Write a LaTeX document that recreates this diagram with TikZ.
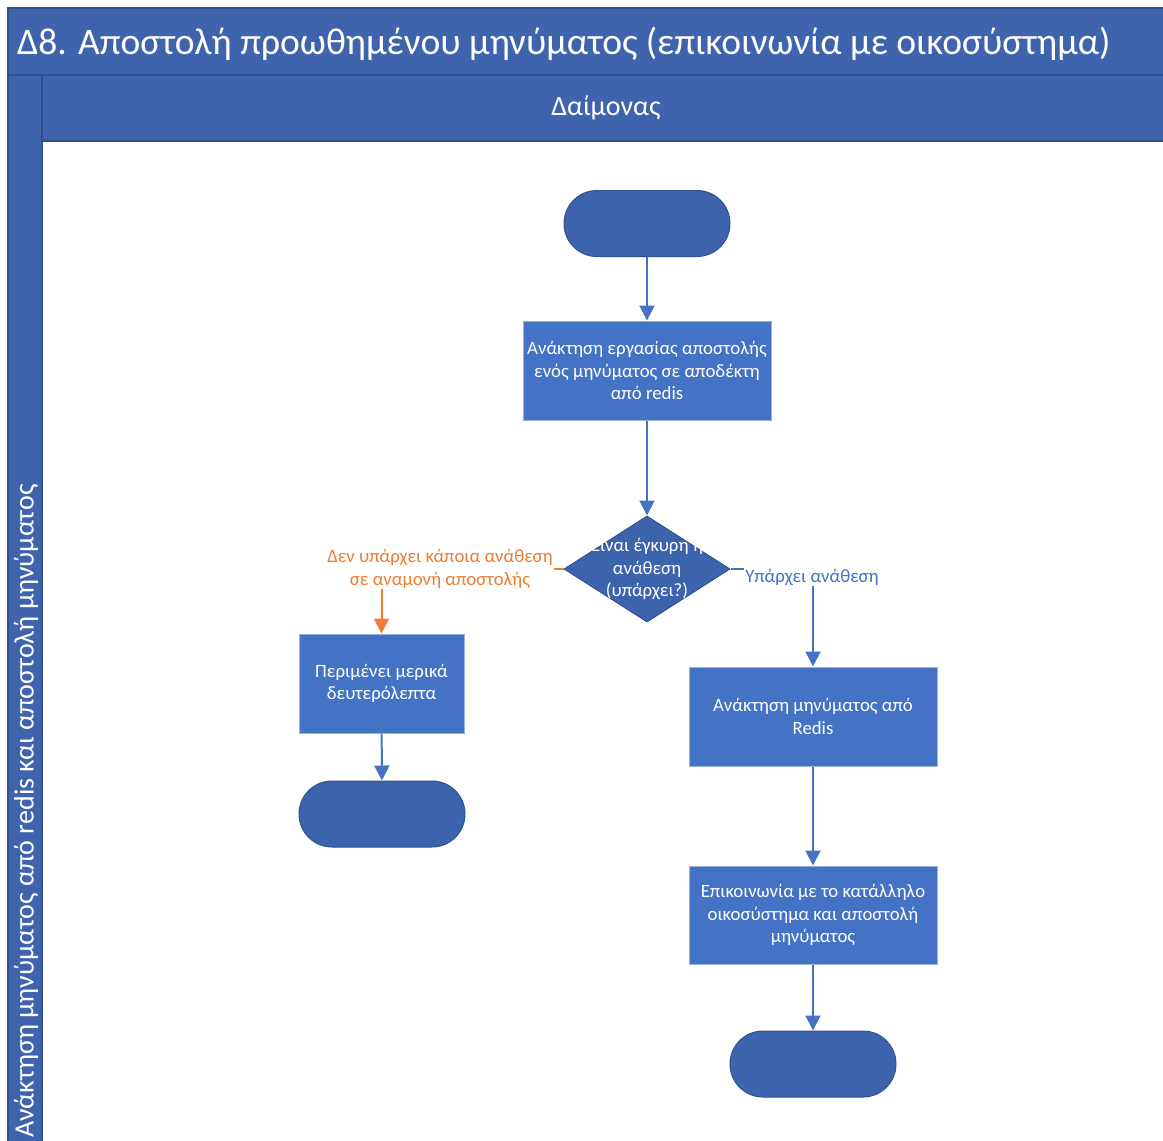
\documentclass[tikz,border=0pt]{standalone}
\usepackage{fontspec}
\setmainfont{Carlito}
\usetikzlibrary{arrows.meta,shapes.geometric}
\definecolor{laneblue}{HTML}{3F63AC}
\definecolor{laneedge}{HTML}{2F528F}
\definecolor{boxblue}{HTML}{4472C4}
\definecolor{boxedge}{HTML}{9DB1D9}
\definecolor{termblue}{HTML}{3E63AD}
\definecolor{flowline}{HTML}{4472C4}
\definecolor{noline}{HTML}{ED7D31}
\tikzset{
  lane/.style={fill=laneblue,draw=laneedge,line width=1.2pt},
  procbox/.style={rectangle,fill=boxblue,draw=boxedge,line width=1pt,inner sep=0pt,
    text=white,align=center,font=\fontsize{18.8}{22.5}\selectfont},
  terminal/.style={rectangle,fill=termblue,draw=laneedge,line width=1pt,inner sep=0pt,
    minimum width=166pt,minimum height=66pt,rounded corners=33pt},
  decision/.style={diamond,fill=termblue,draw=laneedge,line width=1pt,inner sep=0pt,
    minimum width=166pt,minimum height=106pt},
  flow/.style={draw=flowline,line width=2pt,-{Triangle[width=15pt,length=15pt]}},
  noflow/.style={draw=noline,line width=2pt,-{Triangle[width=15pt,length=15pt]}},
  edgelabel/.style={fill=white,inner sep=1pt,align=center,font=\fontsize{18.8}{22.5}\selectfont}
}
\begin{document}
\begin{tikzpicture}[x=1pt,y=-1pt]
\useasboundingbox (0,0) rectangle (1163,1141);
% swimlane frame
\fill[white] (0,0) rectangle (1163,1141);
\path[lane] (8,8) rectangle (1170,75);
\path[lane] (8,75) rectangle (42,1150);
\path[lane] (42,75) rectangle (1170,141);
\node[anchor=base west,text=white,font=\fontsize{37.5}{42}\selectfont,inner sep=0pt] (title) at (17,54)
  {Δ8. Αποστολή προωθημένου μηνύματος (επικοινωνία με οικοσύστημα)};
\node[text=white,font=\fontsize{28}{32}\selectfont,inner sep=0pt] (lanehead) at (606,108) {Δαίμονας};
\node[rotate=90,anchor=east,text=white,font=\fontsize{28}{32}\selectfont,inner sep=0pt] (lanename) at (26,484)
  {Ανάκτηση μηνύματος από redis και αποστολή μηνύματος};

% flow nodes
\node[terminal] (start) at (647,223.5) {};
\node[procbox,minimum width=248pt,minimum height=99pt] (fetchjob) at (647,370.5)
  {Ανάκτηση εργασίας αποστολής\\ενός μηνύματος σε αποδέκτη\\από redis};
\node[decision] (valid) at (647,569) {};
\node[text=white,align=center,font=\fontsize{18.8}{22.5}\selectfont,inner sep=0pt] (validtext) at (647,569)
  {Είναι έγκυρη η\\ανάθεση\\(υπάρχει?)};
\node[procbox,minimum width=165pt,minimum height=99pt] (wait) at (381.5,683.5)
  {Περιμένει μερικά\\δευτερόλεπτα};
\node[terminal] (endleft) at (382,814) {};
\node[procbox,minimum width=248pt,minimum height=99pt] (fetchmsg) at (813,716.5)
  {Ανάκτηση μηνύματος από\\Redis};
\node[procbox,minimum width=248pt,minimum height=98pt] (send) at (813,915)
  {Επικοινωνία με το κατάλληλο\\οικοσύστημα και αποστολή\\μηνύματος};
\node[terminal] (endright) at (813,1064) {};

% connectors
\draw[flow] (start) -- (fetchjob);
\draw[flow] (fetchjob) -- (valid);
\draw[noflow] (valid.west) -| (wait.north);
\node[edgelabel,text=noline] (nolabel) at (440,569) {Δεν υπάρχει κάποια ανάθεση\\σε αναμονή αποστολής};
\draw[flow] (valid.east) -| (fetchmsg.north);
\node[edgelabel,text=flowline] (yeslabel) at (812,577) {Υπάρχει ανάθεση};
\draw[flow] (wait) -- (endleft);
\draw[flow] (fetchmsg) -- (send);
\draw[flow] (send) -- (endright);
\end{tikzpicture}
\end{document}
